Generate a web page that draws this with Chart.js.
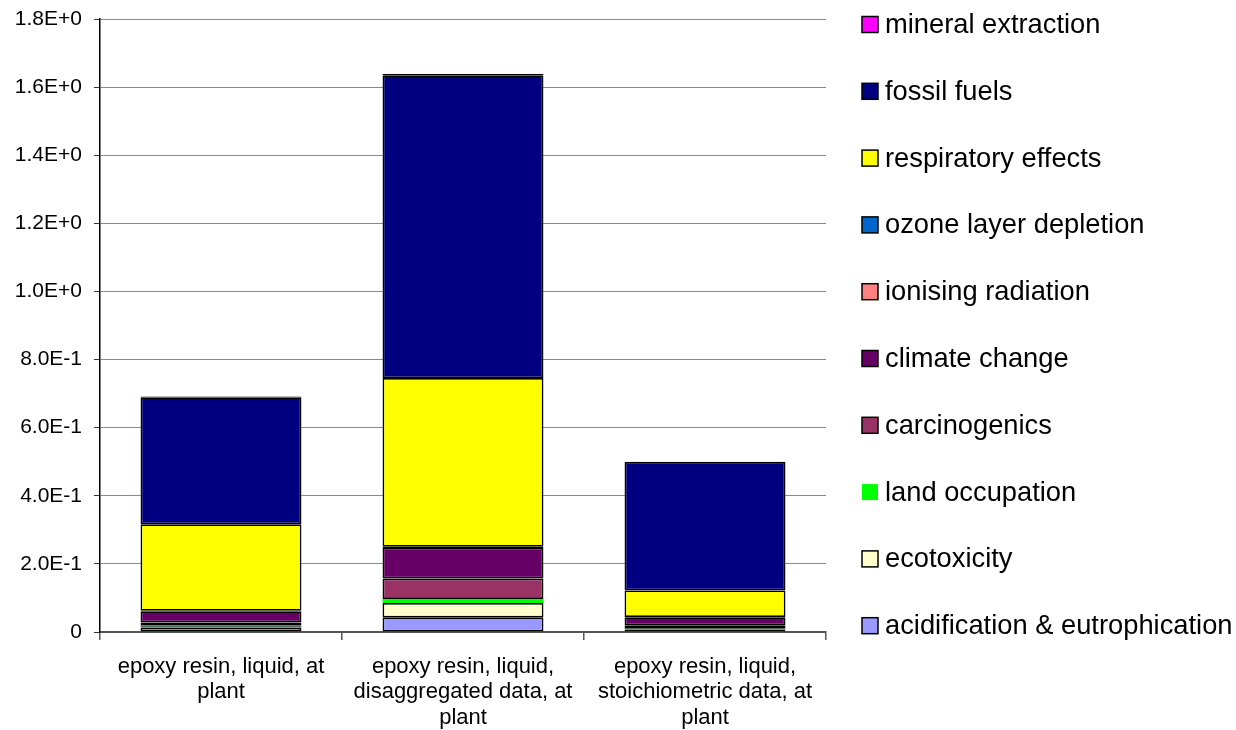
<!DOCTYPE html>
<html>
<head>
<meta charset="utf-8">
<script src="https://cdn.jsdelivr.net/npm/chart.js@4/dist/chart.umd.min.js"></script>
<style>
  html, body { margin: 0; padding: 0; background: #fff; }
  #wrap { width: 1236px; height: 730px; }
</style>
</head>
<body>
<div id="wrap"><canvas id="c" width="1236" height="730"></canvas></div>
<script>
// Product variants compared
const categories = [
  ["epoxy resin, liquid, at", "plant"],
  ["epoxy resin, liquid,", "disaggregated data, at", "plant"],
  ["epoxy resin, liquid,", "stoichiometric data, at", "plant"]
];

// Impact categories, bottom of stack first
const seriesNames = [
  "acidification & eutrophication",
  "ecotoxicity",
  "land occupation",
  "carcinogenics",
  "climate change",
  "ionising radiation",
  "ozone layer depletion",
  "respiratory effects",
  "fossil fuels",
  "mineral extraction"
];

const seriesColors = [
  "#9999FF", "#FFFFCC", "#00FF00", "#993366", "#660066",
  "#FF8080", "#0066CC", "#FFFF00", "#000080", "#FF00FF"
];

// Values per impact category for each product variant
const acidification   = [0.013, 0.043, 0.007];
const ecotoxicity     = [0.004, 0.042, 0.004];
const landOccupation  = [0.001, 0.012, 0.001];
const carcinogenics   = [0.010, 0.060, 0.008];
const climateChange   = [0.033, 0.090, 0.023];
const ionising        = [0.001, 0.003, 0.001];
const ozoneDepletion  = [0.0002, 0.0005, 0.0002];
const respiratory     = [0.254, 0.495, 0.078];
const fossilFuels     = [0.373, 0.889, 0.377];
const mineral         = [0.002, 0.004, 0.001];

const seriesValues = [
  acidification, ecotoxicity, landOccupation, carcinogenics, climateChange,
  ionising, ozoneDepletion, respiratory, fossilFuels, mineral
];

// Y axis range and tick step
const yMin = 0;
const yMax = 1.8;
const yStep = 0.2;

const FONT = "'Liberation Sans', Arial, Helvetica, sans-serif";

const datasets = seriesNames.map((name, i) => ({
  label: name,
  data: seriesValues[i],
  backgroundColor: seriesColors[i],
  borderColor: "#000000",
  borderWidth: name === "land occupation" ? 0 : 1.7,
  borderSkipped: false,
  barPercentage: 0.665,
  categoryPercentage: 1.0
}));

// Legend drawn on the right, top item = last stacked series
const sideLegend = {
  id: "sideLegend",
  afterDraw(chart) {
    const ctx = chart.ctx;
    const boxX = 862, box = 16, textX = 885;
    const firstY = 24.5, step = 66.8;
    ctx.save();
    ctx.font = "27.3px " + FONT;
    ctx.textBaseline = "middle";
    ctx.textAlign = "left";
    const n = chart.data.datasets.length;
    for (let k = 0; k < n; k++) {
      const ds = chart.data.datasets[n - 1 - k];
      const cy = firstY + k * step;
      ctx.fillStyle = ds.backgroundColor;
      ctx.fillRect(boxX, cy - box / 2, box, box);
      if (ds.borderWidth > 0) {
        ctx.strokeStyle = "#000";
        ctx.lineWidth = 1.5;
        ctx.strokeRect(boxX, cy - box / 2, box, box);
      }
      ctx.fillStyle = "#000";
      ctx.fillText(ds.label, textX, cy + 1);
    }
    ctx.restore();
  }
};

new Chart(document.getElementById("c"), {
  type: "bar",
  data: { labels: categories, datasets },
  options: {
    responsive: false,
    animation: false,
    layout: { padding: { left: 0, right: 410, top: 19, bottom: 0 } },
    plugins: {
      legend: { display: false },
      tooltip: { enabled: false }
    },
    scales: {
      x: {
        stacked: true,
        offset: true,
        afterFit(scale) { scale.height = 98; },
        grid: {
          offset: true,
          drawOnChartArea: false,
          drawTicks: true,
          tickLength: 8,
          color: "#555555",
          lineWidth: 1.5
        },
        border: { color: "#555555", width: 2 },
        ticks: {
          color: "#000",
          padding: 14,
          maxRotation: 0,
          autoSkip: false,
          font: { family: FONT, size: 22, lineHeight: 1.16 }
        }
      },
      y: {
        stacked: true,
        min: yMin,
        max: yMax,
        afterFit(scale) {
          scale.width = 100;
          scale.paddingTop = 0;
          scale.paddingBottom = 0;
        },
        grid: {
          color: "#8a8a8a",
          lineWidth: 1,
          drawTicks: true,
          tickLength: 6,
          tickColor: "#333333"
        },
        border: { color: "#000000", width: 1.5 },
        ticks: {
          stepSize: yStep,
          color: "#000",
          padding: 12,
          font: { family: FONT, size: 21 },
          callback(v) {
            if (Math.abs(v) < 1e-9) return "0";
            return Number(v).toExponential(1).toUpperCase();
          }
        }
      }
    }
  },
  plugins: [sideLegend]
});
</script>
</body>
</html>
